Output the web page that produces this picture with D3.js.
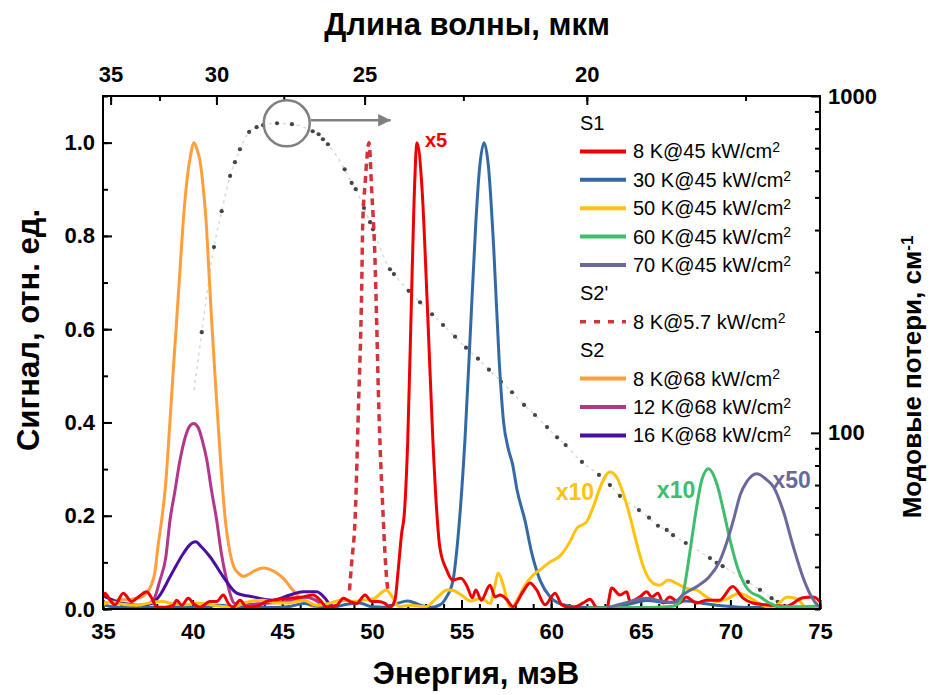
<!DOCTYPE html>
<html><head><meta charset="utf-8">
<script src="https://cdn.jsdelivr.net/npm/d3@7"></script>
<style>body{margin:0;background:#fff}text{font-family:"Liberation Sans",Arial,sans-serif}</style>
</head><body><svg id="c" width="931" height="695"></svg>
<script>
// ---- tick values ----
const energyTicks=[35,40,45,50,55,60,65,70,75];
const energyMinor=d3.range(35,76,1);
const signalTicks=[0,0.2,0.4,0.6,0.8,1.0];
const signalMinor=d3.range(0,1.11,0.1);
const wavelengthTicks=[35,30,25,20];
const wavelengthMinor=[35,32.5,30,27.5,25,22.5,20,17.5];
const lossTicks=[100,1000];
const lossMinor=[30,40,50,60,70,80,90,200,300,400,500,600,700,800,900];

// ---- series [energy meV, signal] ----
const s1_8K=[[35.0,0.025],[35.11,0.034],[35.39,0.019],[35.67,0.009],[36.13,0.034],[36.6,0.016],[36.88,0.023],[37.44,0.037],[37.72,0.023],[38.0,0.004],[38.46,0.004],[38.92,0.008],[39.11,0.019],[39.39,0.008],[39.76,0.023],[40.04,0.012],[40.41,0.004],[40.97,0.016],[41.34,0.016],[41.71,0.03],[41.99,0.012],[42.27,0.004],[42.64,0.019],[43.02,0.004],[43.57,0.006],[44.13,0.016],[44.5,0.019],[45.43,0.023],[46.17,0.026],[46.73,0.03],[47.11,0.019],[47.48,0.004],[48.04,0.008],[48.41,0.023],[48.78,0.016],[49.15,0.012],[49.62,0.03],[49.99,0.016],[50.36,0.016],[50.73,0.012],[51.01,0.004],[51.29,0.02],[51.47,0.084],[51.66,0.162],[51.8,0.2],[52.0,0.36],[52.2,0.65],[52.35,0.87],[52.52,1.0],[52.8,0.9],[53.1,0.645],[53.4,0.365],[53.6,0.22],[53.8,0.13],[54.17,0.084],[54.5,0.062],[54.97,0.066],[55.32,0.048],[55.6,0.024],[55.8,0.041],[56.1,0.019],[56.59,0.051],[56.87,0.026],[57.15,0.03],[57.53,0.02],[57.87,0.005],[58.43,0.037],[58.82,0.056],[59.19,0.041],[59.66,0.009],[60.22,0.034],[60.59,0.009],[61.15,0.002],[61.79,0.013],[62.17,0.021],[62.54,0.004],[63.1,0.002],[63.38,0.045],[63.84,0.03],[64.22,0.037],[64.4,0.016],[64.96,0.026],[65.33,0.037],[65.61,0.026],[65.96,0.034],[66.24,0.013],[66.61,0.026],[67.17,0.013],[67.54,0.026],[68.1,0.013],[68.66,0.019],[69.4,0.019],[70.13,0.048],[70.69,0.024],[71.25,0.013],[71.99,0.009],[73.11,0.006],[74.04,0.024],[74.6,0.026],[74.9,0.02],[75.0,0.015]];
const s1_30K=[[35.0,0.01],[35.5,0.005],[36.5,0.003],[37.5,0.004],[38.5,0.003],[39.5,0.005],[40.5,0.004],[41.5,0.008],[42.5,0.004],[43.5,0.005],[44.5,0.003],[45.5,0.006],[46.2,0.012],[47.0,0.006],[47.8,0.004],[48.6,0.01],[49.3,0.013],[50.0,0.005],[50.7,0.004],[51.4,0.012],[52.0,0.017],[52.6,0.01],[53.2,0.003],[53.8,0.009],[54.17,0.026],[54.53,0.062],[54.82,0.16],[55.2,0.368],[55.5,0.598],[55.8,0.829],[56.0,0.942],[56.26,1.0],[56.5,0.95],[56.8,0.772],[57.1,0.534],[57.35,0.40],[57.6,0.345],[57.85,0.31],[58.1,0.255],[58.54,0.19],[58.92,0.12],[59.38,0.062],[59.94,0.026],[60.68,0.009],[61.6,0.004],[62.5,0.003],[63.5,0.005],[64.3,0.01],[65.3,0.018],[66.5,0.014],[67.5,0.017],[68.5,0.012],[69.5,0.007],[70.5,0.004],[71.5,0.003],[72.5,0.003],[73.5,0.002],[74.5,0.003],[75.0,0.004]];
const s1_50K=[[35.0,0.01],[35.5,0.015],[36.1,0.01],[36.9,0.008],[37.6,0.013],[38.3,0.016],[39.0,0.01],[39.6,0.009],[40.2,0.013],[40.8,0.01],[41.5,0.006],[42.3,0.004],[42.7,0.01],[43.2,0.016],[43.9,0.019],[44.6,0.013],[45.4,0.013],[46.2,0.019],[46.9,0.008],[47.6,0.012],[48.3,0.019],[49.0,0.016],[49.5,0.019],[50.1,0.022],[50.8,0.041],[51.2,0.022],[51.5,0.005],[52.1,0.008],[53.0,0.005],[53.6,0.023],[54.2,0.041],[54.5,0.04],[55.0,0.03],[55.5,0.017],[56.1,0.023],[56.6,0.012],[56.85,0.048],[57.05,0.077],[57.35,0.048],[57.6,0.012],[57.8,0.002],[58.1,0.019],[58.54,0.051],[59.0,0.073],[59.38,0.084],[59.94,0.101],[60.5,0.114],[61.06,0.145],[61.43,0.173],[61.98,0.187],[62.35,0.219],[62.82,0.269],[63.28,0.294],[63.65,0.283],[64.02,0.248],[64.4,0.198],[64.77,0.141],[65.14,0.091],[65.7,0.055],[66.07,0.051],[66.53,0.062],[67.0,0.055],[67.56,0.044],[68.1,0.041],[68.66,0.026],[69.22,0.016],[69.78,0.021],[70.5,0.034],[71.0,0.026],[71.6,0.012],[72.3,0.002],[73.2,0.026],[73.8,0.02],[74.15,0.005],[74.7,0.002],[75.0,0.003]];
const s1_60K=[[62.0,0.002],[64.0,0.003],[66.0,0.004],[66.8,0.006],[67.11,0.012],[67.37,0.034],[67.56,0.076],[67.84,0.148],[68.12,0.219],[68.4,0.276],[68.77,0.301],[69.24,0.269],[69.61,0.212],[69.98,0.148],[70.44,0.084],[71.0,0.041],[71.66,0.026],[72.22,0.012],[72.78,0.005],[73.9,0.005],[75.0,0.007]];
const s1_70K=[[63.1,0.002],[64.03,0.012],[65.33,0.023],[66.26,0.016],[66.82,0.014],[67.4,0.032],[68.2,0.05],[68.8,0.068],[69.4,0.102],[69.8,0.143],[70.2,0.195],[70.55,0.245],[70.9,0.272],[71.47,0.29],[72.0,0.278],[72.4,0.262],[72.95,0.21],[73.5,0.135],[74.05,0.068],[74.5,0.028],[74.9,0.007],[75.0,0.004]];
const s2p_8K=[[48.75,0.04],[48.87,0.098],[49.06,0.19],[49.28,0.469],[49.34,0.54],[49.43,0.683],[49.49,0.826],[49.62,0.911],[49.84,1.0],[49.99,0.897],[50.17,0.754],[50.27,0.612],[50.36,0.469],[50.64,0.19],[50.73,0.12],[50.83,0.062],[50.9,0.04]];
const s2_8K=[[35.0,0.012],[35.5,0.016],[35.95,0.02],[36.4,0.02],[36.88,0.023],[37.2,0.027],[37.44,0.034],[37.7,0.052],[37.9,0.08],[38.07,0.135],[38.27,0.19],[38.5,0.27],[38.74,0.405],[38.9,0.5],[39.11,0.619],[39.3,0.73],[39.48,0.833],[39.7,0.925],[39.85,0.965],[40.08,1.0],[40.25,0.985],[40.41,0.961],[40.6,0.9],[40.75,0.833],[40.9,0.73],[41.06,0.619],[41.3,0.47],[41.53,0.334],[41.8,0.2],[42.09,0.12],[42.3,0.09],[42.55,0.077],[42.83,0.07],[43.1,0.074],[43.5,0.083],[43.94,0.088],[44.3,0.085],[44.69,0.077],[45.1,0.064],[45.6,0.04],[46.0,0.024],[46.36,0.012],[46.7,0.006],[47.2,0.004],[47.8,0.003]];
const s2_12K=[[36.5,0.006],[37.3,0.008],[37.81,0.019],[38.18,0.062],[38.5,0.11],[38.74,0.191],[39.0,0.25],[39.3,0.32],[39.6,0.37],[39.85,0.393],[40.05,0.398],[40.3,0.39],[40.55,0.36],[40.79,0.32],[41.05,0.255],[41.34,0.191],[41.6,0.12],[41.9,0.062],[42.3,0.013],[42.6,0.008],[43.2,0.01],[44.0,0.012],[45.0,0.015],[45.8,0.02],[46.3,0.025],[46.8,0.02],[47.3,0.008],[47.8,0.004]];
const s2_16K=[[35.0,0.028],[35.5,0.02],[35.95,0.013],[36.5,0.01],[37.0,0.008],[37.5,0.01],[37.79,0.013],[38.18,0.03],[38.74,0.069],[39.48,0.119],[39.8,0.136],[40.17,0.144],[40.5,0.133],[40.97,0.112],[41.71,0.069],[42.46,0.034],[43.37,0.026],[44.48,0.019],[45.43,0.03],[46.16,0.037],[46.92,0.037],[47.39,0.023],[47.66,0.009],[48.0,0.004]];
// mode losses [energy meV, loss cm^-1]
const modeLoss=[[40.08,134],[40.51,199],[41.19,356],[41.62,455],[42.09,579],[42.36,636],[42.64,695],[43.15,782],[43.57,808],[43.93,819],[44.71,830],[45.54,825],[46.7,786],[47.03,770],[47.27,744],[47.55,719],[48.48,606],[48.87,552],[49.1,529],[49.56,465],[49.9,422],[50.06,402],[51.01,306],[51.23,296],[52.05,264],[52.69,244],[53.36,225],[53.97,209],[54.64,193],[55.25,179],[55.92,166],[56.53,154],[57.2,142],[57.82,132],[58.49,121],[59.1,113],[59.77,104],[60.33,97],[60.81,92],[61.72,82],[62.67,75],[63.28,70],[63.84,65],[64.9,59],[65.46,56],[65.96,53],[66.45,51.5],[66.8,49.7],[67.51,47.1],[68.86,42.5],[69.24,41.1],[69.57,40.2],[70.98,36.1],[71.65,34.2],[72.3,32.3],[72.64,31.5]];

const series=[
 {g:"S1",label:"8 K@45 kW/cm",color:"#EE0000",data:s1_8K},
 {g:"S1",label:"30 K@45 kW/cm",color:"#336AA5",data:s1_30K},
 {g:"S1",label:"50 K@45 kW/cm",color:"#FFC20E",data:s1_50K},
 {g:"S1",label:"60 K@45 kW/cm",color:"#3EBD6C",data:s1_60K},
 {g:"S1",label:"70 K@45 kW/cm",color:"#6A699E",data:s1_70K},
 {g:"S2'",label:"8 K@5.7 kW/cm",color:"#D2343A",data:s2p_8K,dash:"7,5"},
 {g:"S2",label:"8 K@68 kW/cm",color:"#FF9E3D",data:s2_8K},
 {g:"S2",label:"12 K@68 kW/cm",color:"#B5358B",data:s2_12K},
 {g:"S2",label:"16 K@68 kW/cm",color:"#4A0FA2",data:s2_16K}
];
const drawOrder=[6,7,8,1,2,0,5,3,4];
// multiplier annotations [text, energy, signal, series index]
const multipliers=[["x5",52.96,0.99,0],["x10",61.33,0.233,2],["x10",66.97,0.238,3],["x50",72.35,0.259,4]];

const svg=d3.select("#c");
const L=103,R=820,T=96,B=609;
const x=d3.scaleLinear([35,75],[L,R]);
const y=d3.scaleLinear([0,1.1],[B,T]);
const yR=d3.scaleLog([30,1000],[B,T]);
const hc=1239.84; // meV*um

const axG=svg.append("g");
function styleAxis(g){g.select(".domain").remove();g.selectAll("line").attr("stroke","#000").attr("stroke-width",2);g.selectAll("text").attr("font-size",22).attr("font-weight","bold").attr("fill","#000").attr("font-family","Liberation Sans, Arial, sans-serif");}
// bottom
axG.append("g").attr("transform",`translate(0,${B})`).call(d3.axisBottom(x).tickValues(energyMinor).tickSize(-5).tickFormat("")).call(styleAxis);
axG.append("g").attr("transform",`translate(0,${B})`).call(d3.axisBottom(x).tickValues(energyTicks).tickSize(-9).tickPadding(14).tickFormat(d3.format("d"))).call(styleAxis);
// left
axG.append("g").attr("transform",`translate(${L},0)`).call(d3.axisLeft(y).tickValues(signalMinor).tickSize(-5).tickFormat("")).call(styleAxis);
axG.append("g").attr("transform",`translate(${L},0)`).call(d3.axisLeft(y).tickValues(signalTicks).tickSize(-9).tickPadding(8).tickFormat(d3.format(".1f"))).call(styleAxis);
// top (wavelength)
axG.append("g").attr("transform",`translate(0,${T})`).call(d3.axisTop(x).tickValues(wavelengthMinor.map(w=>hc/w)).tickSize(-5).tickFormat("")).call(styleAxis);
axG.append("g").attr("transform",`translate(0,${T})`).call(d3.axisTop(x).tickValues(wavelengthTicks.map(w=>hc/w)).tickSize(-9).tickPadding(14).tickFormat(e=>d3.format("d")(Math.round(hc/e)))).call(styleAxis);
// right (log)
axG.append("g").attr("transform",`translate(${R},0)`).call(d3.axisRight(yR).tickValues(lossMinor).tickSize(-5).tickFormat("")).call(styleAxis);
axG.append("g").attr("transform",`translate(${R},0)`).call(d3.axisRight(yR).tickValues(lossTicks).tickSize(-9).tickPadding(8).tickFormat(d3.format("d"))).call(styleAxis);

// clip
svg.append("clipPath").attr("id","pc").append("rect").attr("x",L).attr("y",T).attr("width",R-L).attr("height",B-T);
const plot=svg.append("g").attr("clip-path","url(#pc)");

// mode loss curve
const lossLine=d3.line().x(d=>x(d[0])).y(d=>yR(d[1])).curve(d3.curveMonotoneX);
plot.append("path").attr("d",lossLine(modeLoss)).attr("fill","none").attr("stroke","#dadada").attr("stroke-width",1.5).attr("stroke-dasharray","3,4");
plot.selectAll("circle.dot").data(modeLoss.slice(1)).join("circle").attr("class","dot").attr("cx",d=>x(d[0])).attr("cy",d=>yR(d[1])).attr("r",2.1).attr("fill","#454545");

// spectra
const line=d3.line().x(d=>x(d[0])).y(d=>y(d[1])).curve(d3.curveMonotoneX);
drawOrder.forEach(i=>{const s=series[i];
 plot.append("path").attr("d",line(s.data)).attr("fill","none").attr("stroke",s.color).attr("stroke-width",s.dash?3.5:3).attr("stroke-dasharray",s.dash||null).attr("stroke-linejoin","round");
});

// circle + arrow on the loss maximum
const cE=45.25,cL=830;
svg.append("circle").attr("cx",x(cE)).attr("cy",yR(cL)).attr("r",23).attr("fill","none").attr("stroke","#808080").attr("stroke-width",2.5);
svg.append("defs").append("marker").attr("id","ah").attr("viewBox","0 0 10 10").attr("refX",10).attr("refY",5).attr("markerWidth",5).attr("markerHeight",5).attr("orient","auto").attr("markerUnits","strokeWidth")
 .append("path").attr("d","M0,0L10,5L0,10Z").attr("fill","#808080");
svg.append("line").attr("x1",x(cE)+24).attr("x2",x(51.05)).attr("y1",yR(cL)-3).attr("y2",yR(cL)-3).attr("stroke","#808080").attr("stroke-width",2.5).attr("marker-end","url(#ah)");

// multipliers
multipliers.forEach(([t,e,v,si])=>{svg.append("text").attr("x",x(e)).attr("y",y(v)).attr("text-anchor",t==="x10"?"middle":"start").attr("font-size",t==="x5"?20:23).attr("font-weight","bold").attr("fill",series[si].color).text(t);});

// frame
svg.append("rect").attr("x",L).attr("y",T).attr("width",R-L).attr("height",B-T).attr("fill","none").attr("stroke","#000").attr("stroke-width",2);

// legend
const lg=svg.append("g");
let ly=123; const lx=580, dy=28.4;
let prev=null;
series.forEach(s=>{
 if(s.g!==prev){lg.append("text").attr("x",lx).attr("y",ly).attr("dy","0.35em").attr("font-size",20).text(s.g);ly+=dy;prev=s.g;}
 lg.append("line").attr("x1",lx).attr("x2",lx+46).attr("y1",ly).attr("y2",ly).attr("stroke",s.color).attr("stroke-width",s.dash?3.5:4).attr("stroke-dasharray",s.dash?"6,8":null);
 const t=lg.append("text").attr("x",lx+53).attr("y",ly).attr("dy","0.35em").attr("font-size",20);
 t.append("tspan").text(s.label);
 t.append("tspan").attr("dy","-0.45em").attr("font-size",14).text("2");
 ly+=dy;
});

// titles
svg.append("text").attr("x",467).attr("y",35).attr("text-anchor","middle").attr("font-size",31).attr("font-weight","bold").text("Длина волны, мкм");
svg.append("text").attr("x",476).attr("y",684).attr("text-anchor","middle").attr("font-size",31).attr("font-weight","bold").text("Энергия, мэВ");
svg.append("text").attr("transform","translate(39,330) rotate(-90)").attr("text-anchor","middle").attr("font-size",31).attr("font-weight","bold").text("Сигнал, отн. ед.");
const rt=svg.append("text").attr("transform","translate(921,377) rotate(-90)").attr("text-anchor","middle").attr("font-size",26).attr("font-weight","bold");
rt.append("tspan").text("Модовые потери, см");
rt.append("tspan").attr("dy","-0.5em").attr("font-size",17).text("-1");
</script></body></html>
